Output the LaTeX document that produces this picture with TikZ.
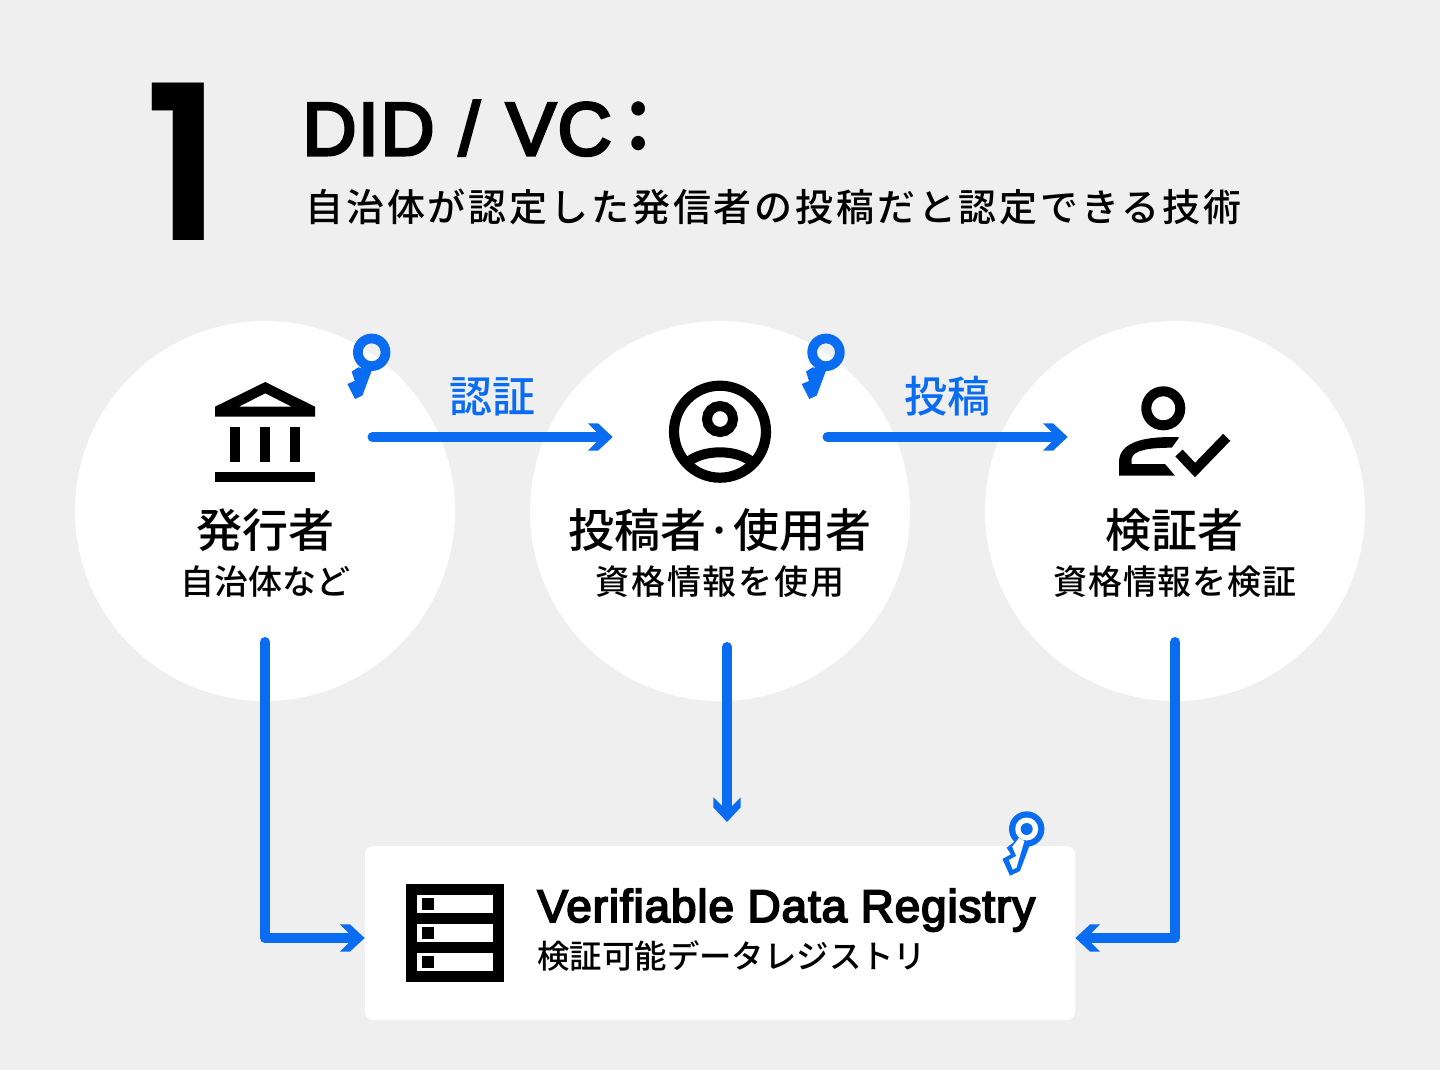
\documentclass[tikz,border=0pt]{standalone}
\usepackage{fontspec}
\usepackage{xcolor}
\usetikzlibrary{arrows.meta}
\setmainfont{Liberation Sans}
\newfontfamily\sansmed[FakeBold=4,LetterSpace=2]{Liberation Sans}
\newfontfamily\numfont{Poppins SemiBold}
\newfontfamily\cjkmed{Noto Sans CJK JP Medium}
\newfontfamily\cjklead[LetterSpace=7.5]{Noto Sans CJK JP Medium}
\newfontfamily\cjkpo[LetterSpace=5]{Noto Sans CJK JP Medium}
\newfontfamily\cjkve[LetterSpace=2]{Noto Sans CJK JP Medium}
\definecolor{bggray}{HTML}{EFEFEF}
\definecolor{flowblue}{HTML}{0A6CF0}
\pgfdeclarearrow{
    name=Chev,
    setup code={
        \pgfarrowssettipend{0pt}
        \pgfarrowssetlineend{-7pt}
        \pgfarrowssetvisualbackend{-12.35pt}
        \pgfarrowssetbackend{-12.35pt}
    },
    drawing code={
        \pgfpathmoveto{\pgfqpoint{0pt}{0pt}}
        \pgfpathlineto{\pgfqpoint{-7.35pt}{6.85pt}}
        \pgfpathlineto{\pgfqpoint{-12.35pt}{6.85pt}}
        \pgfpathlineto{\pgfqpoint{-5.5pt}{0pt}}
        \pgfpathlineto{\pgfqpoint{-12.35pt}{-6.85pt}}
        \pgfpathlineto{\pgfqpoint{-7.35pt}{-6.85pt}}
        \pgfpathclose
        \pgfusepathqfill
    }
}

\begin{document}
\begin{tikzpicture}[
        x=0.5pt, y=-0.5pt,
        spot/.style={circle, fill=white, minimum size=190pt, inner sep=0pt},
        box/.style={rectangle, fill=white, rounded corners=4pt, minimum width=355pt, minimum height=87pt, inner sep=0pt},
        flow/.style={draw=flowblue, line width=5pt, line cap=round, line join=round, -{Chev}},
        txt/.style={inner sep=0pt, anchor=base},
        who/.style={txt, font=\cjkmed\fontsize{23}{24}\selectfont},
        sub/.style={txt, font=\cjkmed\fontsize{17}{20}\selectfont},
        act/.style={txt, text=flowblue, font=\cjkmed\fontsize{21.5}{24}\selectfont},
        keyfull/.pic={
            \fill[flowblue, even odd rule] (0,0) circle (18.7) (0,0) circle (9);
            \fill[flowblue] (-13.3,15) -- (-20,19.3) -- (-17,28.7) -- (-24.3,31.7) -- (-16.7,46.7) -- (-9.3,43.3) -- (0,18.3) -- cycle;
        },
        keyline/.pic={
            \fill[flowblue] (0,0) circle (17.7);
            \fill[flowblue] (-10,11) -- (-20,18.7) -- (-15.7,25.3) -- (-24.3,30) -- (-16.7,46.7) -- (-6.7,42) -- (3.3,15.3) -- cycle;
            \fill[white] (0,0) circle (11.5);
            \fill[white] (-7.7,9) -- (-14.5,17.7) -- (-10.5,27) -- (-17.8,31) -- (-14,40.5) -- (-10.3,38.8) -- (-2.3,12) -- cycle;
            \fill[flowblue] (0,0) circle (6);
        }
    ]
        \fill[bggray] (0,0) rectangle (1440,1070);
        \useasboundingbox (0,0) rectangle (1440,1070);

        % Heading
        \node[txt, anchor=base east, font=\numfont\fontsize{108}{110}\selectfont] (num) at (223,240) {1};
        \node[txt, anchor=base west, font=\sansmed\fontsize{37.5}{40}\selectfont] (title) at (302,155) {DID\hspace{1pt} / \hspace{2pt}VC};
        \node[txt, font=\cjkmed\fontsize{44}{46}\selectfont] (colon) at (639,149) {:};
        \node[txt, anchor=base west, font=\cjklead\fontsize{19}{22}\selectfont] (lead) at (305,221) {自治体が認定した発信者の投稿だと認定できる技術};

        % Circles and registry box
        \node[spot] (is) at (265,511) {};
        \node[spot] (po) at (720,511) {};
        \node[spot] (ve) at (1175,511) {};
        \node[box] (vdr) at (720,933) {};

        % Circle labels
        \node[who] (isname) at (265,547) {発行者};
        \node[sub] (isnote) at (265,594.5) {自治体など};
        \node[who] (poname) at (720,547) {投稿者·使用者};
        \node[sub, font=\cjkpo\fontsize{17}{20}\selectfont] (ponote) at (720,594.5) {資格情報を使用};
        \node[who] (vename) at (1174,547) {検証者};
        \node[sub, font=\cjkve\fontsize{17}{20}\selectfont] (venote) at (1175,594.5) {資格情報を検証};

        % Registry labels
        \node[txt, anchor=base west, font=\sansmed\fontsize{22.9}{26}\selectfont] (vdrname) at (537,922) {Verifiable Data Registry};
        \node[txt, anchor=base west, font=\cjkmed\fontsize{16.2}{18}\selectfont] (vdrnote) at (537,968) {検証可能データレジストリ};

        % Arrow ends
        \coordinate (isright) at (372.5,437);
        \coordinate (poleft) at (612.7,437);
        \coordinate (poright) at (827.5,437);
        \coordinate (veleft) at (1067.7,437);
        \coordinate (isdown) at (265,642);
        \coordinate (podown) at (727,647);
        \coordinate (vdrtop) at (727,822);
        \coordinate (vedown) at (1175,642);

        % Arrows
        \draw[flow] (isright) -- node[act, above=8pt] (auth) {認証} (poleft);
        \draw[flow] (poright) -- node[act, above=8pt] (post) {投稿} (veleft);
        \draw[flow] (isdown) |- ([yshift=-2.5pt]vdr.west);
        \draw[flow] (podown) -- (vdrtop);
        \draw[flow] (vedown) |- ([yshift=-2.5pt]vdr.east);

        % Keys
        \pic at (371.7,352.3) {keyfull};
        \pic at (826,352.3) {keyfull};
        \pic at (1026.7,829) {keyline};

        % Bank icon
        \fill[black, even odd rule] (215,406.7) -- (265.3,382) -- (315,406.7) -- (315,416.7) -- (215,416.7) -- cycle (238.7,406.7) -- (265.3,393.3) -- (291.7,406.7) -- cycle;
        \fill[black] (230,426.7) rectangle (240.3,462);
        \fill[black] (260,426.7) rectangle (270.3,462);
        \fill[black] (290,426.7) rectangle (300.3,462);
        \fill[black] (215,471.7) rectangle (315,482);

        % Person icon
        \draw[black, line width=5.1pt] (720,431.7) circle (46);
        \draw[black, line width=5pt] (720,419) circle (13);
        \draw[black, line width=5pt] (688.3,461.7) .. controls (704,449.2) and (736,449.2) .. (751.7,461.7);

        % Check icon
        \draw[black, line width=5pt] (1163.3,408.3) circle (17);
        \fill[black] (1179.3,437.3) .. controls (1150,436) and (1119,440) .. (1119,462) -- (1119,475.7) -- (1175,475.7) -- (1165,464) -- (1131.7,464) -- (1131.7,458.5) .. controls (1133,450) and (1150,447.7) .. (1171.7,447.7) -- cycle;
        \draw[black, line width=5pt] (1179,453) -- (1195,470) -- (1226.7,437.3);

        % Server icon
        \fill[black] (406,884) rectangle (504,982);
        \fill[white] (417,895) rectangle (493,913);
        \fill[white] (417,924) rectangle (493,942);
        \fill[white] (417,953) rectangle (493,971);
        \fill[black] (422.3,898.3) rectangle (433.7,909.7);
        \fill[black] (422.3,927.3) rectangle (433.7,938.7);
        \fill[black] (422.3,956.3) rectangle (433.7,967.7);
    \end{tikzpicture}
\end{document}
